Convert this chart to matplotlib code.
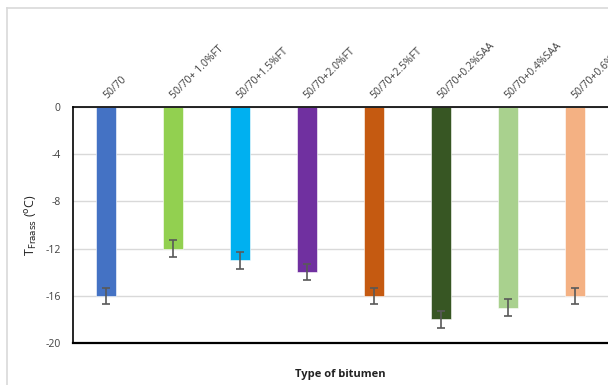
import matplotlib.pyplot as plt
import numpy as np
from matplotlib.lines import Line2D

plt.rcParams['font.family'] = ['Open Sans', 'DejaVu Sans']

bitumen = ['50/70', '50/70+ 1.0%FT', '50/70+1.5%FT', '50/70+2.0%FT',
           '50/70+2.5%FT', '50/70+0.2%SAA', '50/70+0.4%SAA', '50/70+0.6%SAA']
t_fraass = [-16, -12, -13, -14, -16, -18, -17, -16]
t_err = [0.7, 0.7, 0.7, 0.7, 0.7, 0.7, 0.7, 0.7]
colors = ['#4472C4', '#92D050', '#00B0F0', '#7030A0',
          '#C55A11', '#375623', '#A9D18E', '#F4B183']
yticks = [0, -4, -8, -12, -16, -20]

fig = plt.figure(figsize=(6.08, 3.85), dpi=100)
# axes runs off the right edge, as in the source sheet
ax = fig.add_axes([73 / 608, 1 - 343 / 385, 1 - 73 / 608, (343 - 107) / 385])

x = np.arange(len(bitumen))
ax.bar(x, t_fraass, width=0.3, color=colors, edgecolor='white', linewidth=0.4, zorder=2)
ax.errorbar(x, t_fraass, yerr=t_err, fmt='none', ecolor='#595959',
            elinewidth=1.2, capsize=3, capthick=1.2, zorder=3)

ax.set_xlim(-0.5, 7.5)
ax.set_ylim(-20, 0)
ax.set_yticks(yticks)
ax.set_yticklabels([str(v) for v in yticks], fontsize=7.5, color='#404040')
ax.yaxis.grid(True, color='#d9d9d9', linewidth=1, zorder=0)
ax.set_axisbelow(True)
ax.tick_params(axis='y', length=0, pad=9)

ax.set_xticks([])
for i, name in enumerate(bitumen):
    ax.text(i + 0.04, 0.5, name, rotation=45, ha='left', va='bottom',
            fontsize=7.5, color='#404040', rotation_mode='anchor', clip_on=False)

ax.spines['right'].set_visible(False)
ax.spines['top'].set_color('black')
ax.spines['top'].set_linewidth(1.2)
ax.spines['left'].set_color('black')
ax.spines['left'].set_linewidth(1.2)
ax.spines['bottom'].set_color('black')
ax.spines['bottom'].set_linewidth(1.6)

ax.set_ylabel(r'T$_{\mathrm{Fraass}}$ ($^{\mathrm{o}}$C)', fontsize=9, color='#222222')
ax.yaxis.set_label_coords(-33 / 535, 0.5)
fig.text(340 / 608, 1 - 375 / 385, 'Type of bitumen', ha='center', va='center',
         fontsize=8, fontweight='bold', color='#222222')

# light chart-area border on top and left
fig.add_artist(Line2D([7 / 608, 7 / 608], [0, 1 - 8 / 385], transform=fig.transFigure,
                      color='#d9d9d9', linewidth=1.2))
fig.add_artist(Line2D([7 / 608, 1], [1 - 8 / 385, 1 - 8 / 385], transform=fig.transFigure,
                      color='#d9d9d9', linewidth=1.2))

fig.savefig('out.png', dpi=100)
